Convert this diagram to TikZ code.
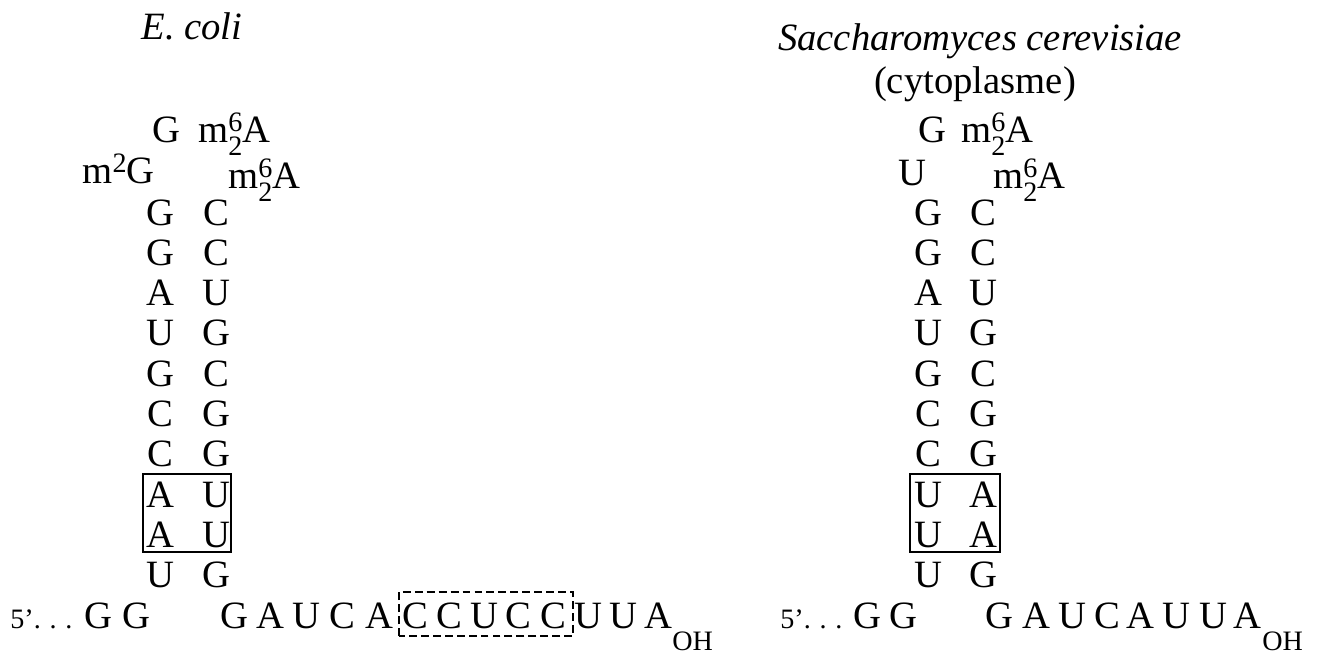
\documentclass[tikz,border=0pt]{standalone}
\usepackage{fontspec}
\setmainfont{Liberation Serif}
\usepackage{tikz}

\newcommand{\nt}{\fontsize{22}{26}\selectfont}
\newcommand{\st}{\fontsize{16}{19}\selectfont}
\newcommand{\mmA}{m\rlap{\raisebox{6pt}{\st 6}}\raisebox{-7.6pt}{\st 2}A}
\newcommand{\mmG}{m\raisebox{6pt}{\st 2}G}
\newcommand{\fivep}{{\st 5'.\hspace{5pt}.\hspace{5pt}.}}

\tikzset{nt/.style={anchor=base,font=\nt,inner sep=0pt}}

\begin{document}
\begin{tikzpicture}
\useasboundingbox (0,0) rectangle (26.36,13.12);

% titles
\node[nt,font=\nt\itshape] (tecoli) at (3.84,12.32) {E.\ coli};
\node[nt,font=\nt\itshape] (tyeast) at (19.6,12.1) {Saccharomyces cerevisiae};
\node[nt] (tcyto) at (19.5,11.26) {(cytoplasme)};

% E. coli stem
\node[nt] (ltg) at (3.32,10.28) {G};
\node[nt,anchor=base west] (ltm) at (3.96,10.28) {\mmA};
\node[nt,anchor=base east] (lsg) at (3.1,9.46) {\mmG};
\node[nt,anchor=base west] (lsm) at (4.56,9.36) {\mmA};
\node[nt] (la10) at (3.2,8.62) {G};  \node[nt] (lb10) at (4.32,8.62) {C};
\node[nt] (la9) at (3.2,7.814) {G};  \node[nt] (lb9) at (4.32,7.814) {C};
\node[nt] (la8) at (3.2,7.008) {A};  \node[nt] (lb8) at (4.32,7.008) {U};
\node[nt] (la7) at (3.2,6.202) {U};  \node[nt] (lb7) at (4.32,6.202) {G};
\node[nt] (la6) at (3.2,5.396) {G};  \node[nt] (lb6) at (4.32,5.396) {C};
\node[nt] (la5) at (3.2,4.59) {C};   \node[nt] (lb5) at (4.32,4.59) {G};
\node[nt] (la4) at (3.2,3.784) {C};  \node[nt] (lb4) at (4.32,3.784) {G};
\node[nt] (la3) at (3.2,2.978) {A};  \node[nt] (lb3) at (4.32,2.978) {U};
\node[nt] (la2) at (3.2,2.172) {A};  \node[nt] (lb2) at (4.32,2.172) {U};
\node[nt] (la1) at (3.2,1.366) {U};  \node[nt] (lb1) at (4.32,1.366) {G};
\draw[line width=1pt] (2.86,2.08) rectangle (4.62,3.64);

% E. coli 3' end
\node[nt,anchor=base west] (lfive) at (0.2,0.56) {\fivep};
\node[nt] (lg1) at (1.97,0.56) {G};
\node[nt] (lg2) at (2.72,0.56) {G};
\node[nt] (ls1) at (4.68,0.56) {G};
\node[nt] (ls2) at (5.405,0.56) {A};
\node[nt] (ls3) at (6.13,0.56) {U};
\node[nt] (ls4) at (6.855,0.56) {C};
\node[nt] (ls5) at (7.58,0.56) {A};
\node[nt] (ls6) at (8.3,0.56) {C};
\node[nt] (ls7) at (8.99,0.56) {C};
\node[nt] (ls8) at (9.68,0.56) {U};
\node[nt] (ls9) at (10.37,0.56) {C};
\node[nt] (ls10) at (11.06,0.56) {C};
\node[nt] (ls11) at (11.76,0.56) {U};
\node[nt] (ls12) at (12.46,0.56) {U};
\node[nt] (ls13) at (13.16,0.56) {A};
\node[nt,font=\st,anchor=base west] (loh) at (13.44,0.12) {OH};
\draw[line width=1pt,dash pattern=on 4.5pt off 2.3pt] (7.98,0.4) rectangle (11.46,1.28);

% S. cerevisiae stem
\node[nt] (rtg) at (18.64,10.28) {G};
\node[nt,anchor=base west] (rtm) at (19.22,10.28) {\mmA};
\node[nt] (rsu) at (18.24,9.42) {U};
\node[nt,anchor=base west] (rsm) at (19.86,9.36) {\mmA};
\node[nt] (ra10) at (18.56,8.62) {G};  \node[nt] (rb10) at (19.66,8.62) {C};
\node[nt] (ra9) at (18.56,7.814) {G};  \node[nt] (rb9) at (19.66,7.814) {C};
\node[nt] (ra8) at (18.56,7.008) {A};  \node[nt] (rb8) at (19.66,7.008) {U};
\node[nt] (ra7) at (18.56,6.202) {U};  \node[nt] (rb7) at (19.66,6.202) {G};
\node[nt] (ra6) at (18.56,5.396) {G};  \node[nt] (rb6) at (19.66,5.396) {C};
\node[nt] (ra5) at (18.56,4.59) {C};   \node[nt] (rb5) at (19.66,4.59) {G};
\node[nt] (ra4) at (18.56,3.784) {C};  \node[nt] (rb4) at (19.66,3.784) {G};
\node[nt] (ra3) at (18.56,2.978) {U};  \node[nt] (rb3) at (19.66,2.978) {A};
\node[nt] (ra2) at (18.56,2.172) {U};  \node[nt] (rb2) at (19.66,2.172) {A};
\node[nt] (ra1) at (18.56,1.366) {U};  \node[nt] (rb1) at (19.66,1.366) {G};
\draw[line width=1pt] (18.2,2.08) rectangle (20.0,3.64);

% S. cerevisiae 3' end
\node[nt,anchor=base west] (rfive) at (15.6,0.56) {\fivep};
\node[nt] (rg1) at (17.35,0.56) {G};
\node[nt] (rg2) at (18.07,0.56) {G};
\node[nt] (rs1) at (19.98,0.56) {G};
\node[nt] (rs2) at (20.72,0.56) {A};
\node[nt] (rs3) at (21.44,0.56) {U};
\node[nt] (rs4) at (22.14,0.56) {C};
\node[nt] (rs5) at (22.8,0.56) {A};
\node[nt] (rs6) at (23.52,0.56) {U};
\node[nt] (rs7) at (24.26,0.56) {U};
\node[nt] (rs8) at (24.94,0.56) {A};
\node[nt,font=\st,anchor=base west] (roh) at (25.24,0.12) {OH};

\end{tikzpicture}
\end{document}
